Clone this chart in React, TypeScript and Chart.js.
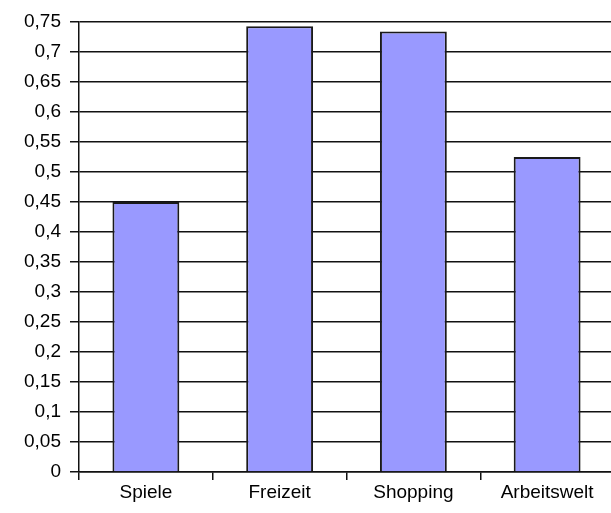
import React, { useEffect, useRef } from "react";
import { Chart, registerables } from "chart.js";

Chart.register(...registerables);

const categories = ["Spiele", "Freizeit", "Shopping", "Arbeitswelt"];
const values = [0.45, 0.743, 0.734, 0.525];
const yMin = 0;
const yMax = 0.75;
const yStep = 0.05;

export default function App() {
  const ref = useRef<HTMLCanvasElement | null>(null);

  useEffect(() => {
    if (!ref.current) return;
    const font = { family: "'Liberation Sans', Arial, sans-serif", size: 19 };
    const chart = new Chart(ref.current, {
      type: "bar",
      data: {
        labels: categories,
        datasets: [
          {
            data: values,
            backgroundColor: "#9999FF",
            borderColor: "#1a1a1a",
            borderWidth: 2,
            barPercentage: 0.5,
            categoryPercentage: 1,
          },
        ],
      },
      options: {
        responsive: false,
        animation: false,
        layout: { padding: { top: 22, right: 6, left: 0, bottom: 0 } },
        plugins: { legend: { display: false }, tooltip: { enabled: false } },
        scales: {
          x: {
            offset: true,
            grid: {
              display: true,
              offset: true,
              drawOnChartArea: false,
              drawTicks: true,
              tickLength: 8,
              color: "#111",
              lineWidth: 1.5,
            },
            border: { display: true, color: "#111", width: 1.5 },
            ticks: { color: "#000", font, padding: 1, maxRotation: 0 },
            afterFit: (s: any) => {
              s.height = 41;
            },
          },
          y: {
            min: yMin,
            max: yMax,
            grid: {
              color: "#111",
              lineWidth: 1.5,
              tickLength: 9,
              drawTicks: true,
            },
            border: { display: true, color: "#111", width: 1.5 },
            ticks: {
              stepSize: yStep,
              color: "#000",
              font,
              padding: 9,
              callback: (v: any) =>
                parseFloat(Number(v).toFixed(2)).toString().replace(".", ","),
            },
            afterFit: (s: any) => {
              s.width = 79;
            },
          },
        },
      },
    });
    return () => chart.destroy();
  }, []);

  return (
    <div
      style={{
        position: "fixed",
        left: 0,
        top: 0,
        width: 611,
        height: 513,
        overflow: "hidden",
        background: "#fff",
      }}
    >
      <canvas ref={ref} width={620} height={513} style={{ display: "block" }} />
    </div>
  );
}
